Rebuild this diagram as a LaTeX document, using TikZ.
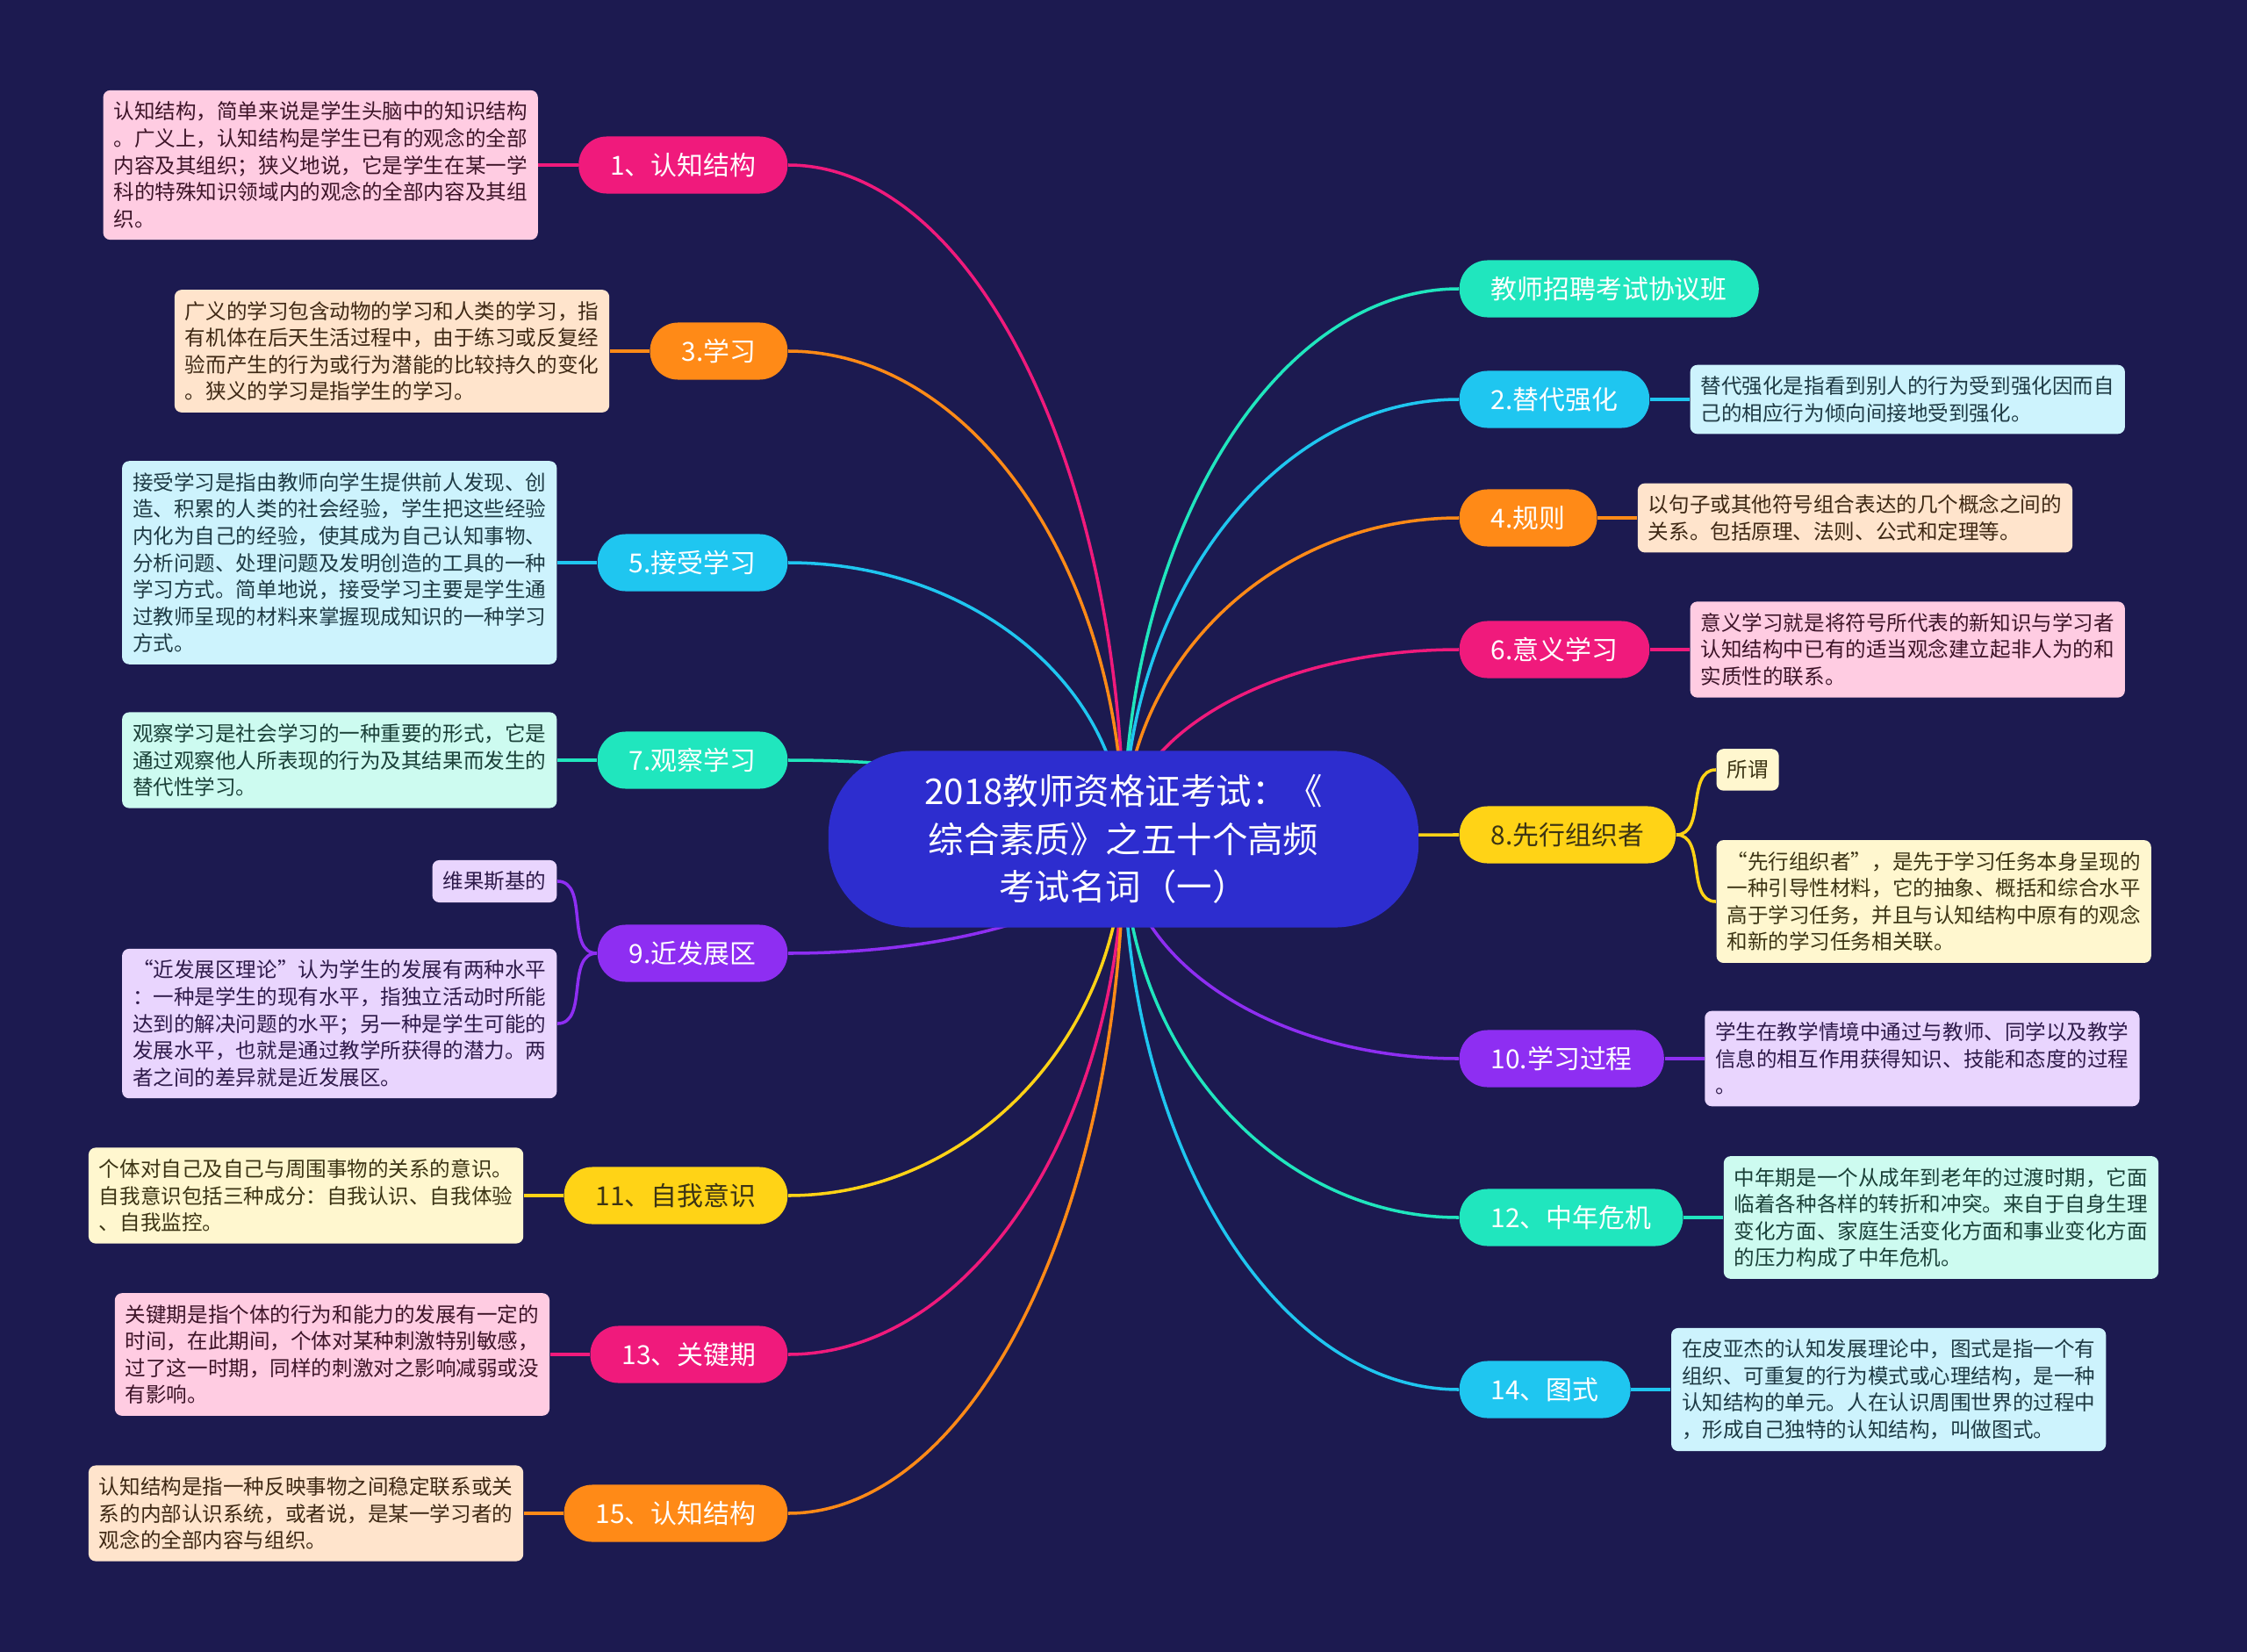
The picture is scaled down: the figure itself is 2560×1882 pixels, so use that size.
\documentclass[tikz,border=0pt]{standalone}
\usepackage{fontspec}
\setmainfont{Noto Sans CJK SC}
\usepackage{tikz}
\usetikzlibrary{positioning,calc}
\definecolor{bgnavy}{HTML}{1C1A50}
\definecolor{rootblue}{HTML}{2D2DCF}
\definecolor{pinkc}{HTML}{F01A7C}
\definecolor{orangec}{HTML}{FF8A17}
\definecolor{cyanc}{HTML}{1FC6F0}
\definecolor{mintc}{HTML}{20E6BE}
\definecolor{purplec}{HTML}{8E2EF2}
\definecolor{yellowc}{HTML}{FFD316}
\definecolor{pinkl}{HTML}{FFCCE2}
\definecolor{orangel}{HTML}{FFE4CC}
\definecolor{cyanl}{HTML}{CDF3FD}
\definecolor{mintl}{HTML}{CDFBF0}
\definecolor{purplel}{HTML}{E9D5FE}
\definecolor{yellowl}{HTML}{FFF7CF}
\definecolor{pinkd}{HTML}{3D1428}
\definecolor{oranged}{HTML}{3E2814}
\definecolor{cyand}{HTML}{1E3A44}
\definecolor{mintd}{HTML}{1A4038}
\definecolor{purpled}{HTML}{2E1A4A}
\definecolor{yellowd}{HTML}{3C3414}
\newcommand\rootfont{\fontsize{11.5pt}{15.5pt}\selectfont}
\newcommand\topicfont{\fontsize{8.5pt}{10pt}\selectfont}
\newcommand\detailfont{\fontsize{6.7pt}{8.7pt}\selectfont}
\pgfdeclarelayer{backdrop}
\pgfdeclarelayer{links}
\pgfsetlayers{backdrop,links,main}
\tikzset{
    rootbox/.style={
        fill=rootblue, text=white, rounded corners=0.95cm,
        minimum width=6.72cm, minimum height=2.01cm,
        font=\rootfont, align=center
    },
    topic/.style={
        rounded corners=0.32cm, minimum height=0.65cm,
        inner xsep=0.36cm, inner ysep=0pt,
        font=\topicfont, text=white
    },
    note/.style={
        rounded corners=0.08cm, inner xsep=0.12cm, inner ysep=0.13cm,
        font=\detailfont, align=left
    },
    pinktopic/.style={topic, fill=pinkc},
    orangetopic/.style={topic, fill=orangec},
    cyantopic/.style={topic, fill=cyanc},
    minttopic/.style={topic, fill=mintc},
    purpletopic/.style={topic, fill=purplec},
    yellowtopic/.style={topic, fill=yellowc, text=yellowd},
    pinknote/.style={note, fill=pinkl, text=pinkd},
    orangenote/.style={note, fill=orangel, text=oranged},
    cyannote/.style={note, fill=cyanl, text=cyand},
    mintnote/.style={note, fill=mintl, text=mintd},
    purplenote/.style={note, fill=purplel, text=purpled},
    yellownote/.style={note, fill=yellowl, text=yellowd},
    branch/.style={
        line width=1pt,
        to path={.. controls ($(\tikztostart)!0.55!(\tikztostart |- \tikztotarget)$)
                 and ($(\tikztotarget)!0.55!(\tikztostart |- \tikztotarget)$) .. (\tikztotarget)}
    },
    twig/.style={line width=1pt},
}
\begin{document}
\begin{tikzpicture}[x=0.01cm, y=-0.01cm, node distance=0.45cm]
    \begin{pgfonlayer}{backdrop}
        \fill[bgnavy] (0,0) rectangle (2560,1882);
    \end{pgfonlayer}
    \useasboundingbox (0,0) rectangle (2560,1882);

    \node[rootbox] (root) at (1280,956) {2018教师资格证考试：《\\综合素质》之五十个高频\\考试名词（一）};

    % left side
    \node[pinktopic, anchor=east] (n1) at (898,188) {1、认知结构};
    \node[pinknote, left=of n1] (d1) {认知结构，简单来说是学生头脑中的知识结构\\。广义上，认知结构是学生已有的观念的全部\\内容及其组织；狭义地说，它是学生在某一学\\科的特殊知识领域内的观念的全部内容及其组\\织。};
    \node[orangetopic, anchor=east] (n3) at (898,400) {3.学习};
    \node[orangenote, left=of n3] (d3) {广义的学习包含动物的学习和人类的学习，指\\有机体在后天生活过程中，由于练习或反复经\\验而产生的行为或行为潜能的比较持久的变化\\。狭义的学习是指学生的学习。};
    \node[cyantopic, anchor=east] (n5) at (898,641) {5.接受学习};
    \node[cyannote, left=of n5] (d5) {接受学习是指由教师向学生提供前人发现、创\\造、积累的人类的社会经验，学生把这些经验\\内化为自己的经验，使其成为自己认知事物、\\分析问题、处理问题及发明创造的工具的一种\\学习方式。简单地说，接受学习主要是学生通\\过教师呈现的材料来掌握现成知识的一种学习\\方式。};
    \node[minttopic, anchor=east] (n7) at (898,866) {7.观察学习};
    \node[mintnote, left=of n7] (d7) {观察学习是社会学习的一种重要的形式，它是\\通过观察他人所表现的行为及其结果而发生的\\替代性学习。};
    \node[purpletopic, anchor=east] (n9) at (898,1086) {9.近发展区};
    \node[purplenote, anchor=east] (n9a) at ([xshift=-0.45cm, yshift=0.82cm]n9.west) {维果斯基的};
    \node[purplenote, anchor=east] (n9b) at ([xshift=-0.45cm, yshift=-0.80cm]n9.west) {“近发展区理论”认为学生的发展有两种水平\\：一种是学生的现有水平，指独立活动时所能\\达到的解决问题的水平；另一种是学生可能的\\发展水平，也就是通过教学所获得的潜力。两\\者之间的差异就是近发展区。};
    \node[yellowtopic, anchor=east] (n11) at (898,1362) {11、自我意识};
    \node[yellownote, left=of n11] (d11) {个体对自己及自己与周围事物的关系的意识。\\自我意识包括三种成分：自我认识、自我体验\\、自我监控。};
    \node[pinktopic, anchor=east] (n13) at (898,1543) {13、关键期};
    \node[pinknote, left=of n13] (d13) {关键期是指个体的行为和能力的发展有一定的\\时间，在此期间，个体对某种刺激特别敏感，\\过了这一时期，同样的刺激对之影响减弱或没\\有影响。};
    \node[orangetopic, anchor=east] (n15) at (898,1724) {15、认知结构};
    \node[orangenote, left=of n15] (d15) {认知结构是指一种反映事物之间稳定联系或关\\系的内部认识系统，或者说，是某一学习者的\\观念的全部内容与组织。};

    % right side
    \node[minttopic, anchor=west] (n0) at (1662,329) {教师招聘考试协议班};
    \node[cyantopic, anchor=west] (n2) at (1662,455) {2.替代强化};
    \node[cyannote, right=of n2] (d2) {替代强化是指看到别人的行为受到强化因而自\\己的相应行为倾向间接地受到强化。};
    \node[orangetopic, anchor=west] (n4) at (1662,590) {4.规则};
    \node[orangenote, right=of n4] (d4) {以句子或其他符号组合表达的几个概念之间的\\关系。包括原理、法则、公式和定理等。};
    \node[pinktopic, anchor=west] (n6) at (1662,740) {6.意义学习};
    \node[pinknote, right=of n6] (d6) {意义学习就是将符号所代表的新知识与学习者\\认知结构中已有的适当观念建立起非人为的和\\实质性的联系。};
    \node[yellowtopic, anchor=west] (n8) at (1662,951) {8.先行组织者};
    \node[yellownote, anchor=west] (n8a) at ([xshift=0.45cm, yshift=0.74cm]n8.east) {所谓};
    \node[yellownote, anchor=west] (n8b) at ([xshift=0.45cm, yshift=-0.76cm]n8.east) {“先行组织者”，是先于学习任务本身呈现的\\一种引导性材料，它的抽象、概括和综合水平\\高于学习任务，并且与认知结构中原有的观念\\和新的学习任务相关联。};
    \node[purpletopic, anchor=west] (n10) at (1662,1206) {10.学习过程};
    \node[purplenote, right=of n10] (d10) {学生在教学情境中通过与教师、同学以及教学\\信息的相互作用获得知识、技能和态度的过程\\。};
    \node[minttopic, anchor=west] (n12) at (1662,1387) {12、中年危机};
    \node[mintnote, right=of n12] (d12) {中年期是一个从成年到老年的过渡时期，它面\\临着各种各样的转折和冲突。来自于自身生理\\变化方面、家庭生活变化方面和事业变化方面\\的压力构成了中年危机。};
    \node[cyantopic, anchor=west] (n14) at (1662,1583) {14、图式};
    \node[cyannote, right=of n14] (d14) {在皮亚杰的认知发展理论中，图式是指一个有\\组织、可重复的行为模式或心理结构，是一种\\认知结构的单元。人在认识周围世界的过程中\\，形成自己独特的认知结构，叫做图式。};

    \begin{pgfonlayer}{links}
        \draw[branch, pinkc] (root.center) to (n1.east);
        \draw[branch, orangec] (root.center) to (n3.east);
        \draw[branch, cyanc] (root.center) to (n5.east);
        \draw[branch, mintc] (root.center) to (n7.east);
        \draw[branch, purplec] (root.center) to (n9.east);
        \draw[branch, yellowc] (root.center) to (n11.east);
        \draw[branch, pinkc] (root.center) to (n13.east);
        \draw[branch, orangec] (root.center) to (n15.east);
        \draw[branch, mintc] (root.center) to (n0.west);
        \draw[branch, cyanc] (root.center) to (n2.west);
        \draw[branch, orangec] (root.center) to (n4.west);
        \draw[branch, pinkc] (root.center) to (n6.west);
        \draw[branch, yellowc] (root.center) to (n8.west);
        \draw[branch, purplec] (root.center) to (n10.west);
        \draw[branch, mintc] (root.center) to (n12.west);
        \draw[branch, cyanc] (root.center) to (n14.west);

        \draw[twig, pinkc] (n1.west) -- (d1.east);
        \draw[twig, orangec] (n3.west) -- (d3.east);
        \draw[twig, cyanc] (n5.west) -- (d5.east);
        \draw[twig, mintc] (n7.west) -- (d7.east);
        \draw[twig, purplec] (n9.west) to[out=180, in=0] (n9a.east);
        \draw[twig, purplec] (n9.west) to[out=180, in=0] (n9b.east);
        \draw[twig, yellowc] (n11.west) -- (d11.east);
        \draw[twig, pinkc] (n13.west) -- (d13.east);
        \draw[twig, orangec] (n15.west) -- (d15.east);
        \draw[twig, cyanc] (n2.east) -- (d2.west);
        \draw[twig, orangec] (n4.east) -- (d4.west);
        \draw[twig, pinkc] (n6.east) -- (d6.west);
        \draw[twig, yellowc] (n8.east) to[out=0, in=180] (n8a.west);
        \draw[twig, yellowc] (n8.east) to[out=0, in=180] (n8b.west);
        \draw[twig, purplec] (n10.east) -- (d10.west);
        \draw[twig, mintc] (n12.east) -- (d12.west);
        \draw[twig, cyanc] (n14.east) -- (d14.west);
    \end{pgfonlayer}
\end{tikzpicture}
\end{document}
